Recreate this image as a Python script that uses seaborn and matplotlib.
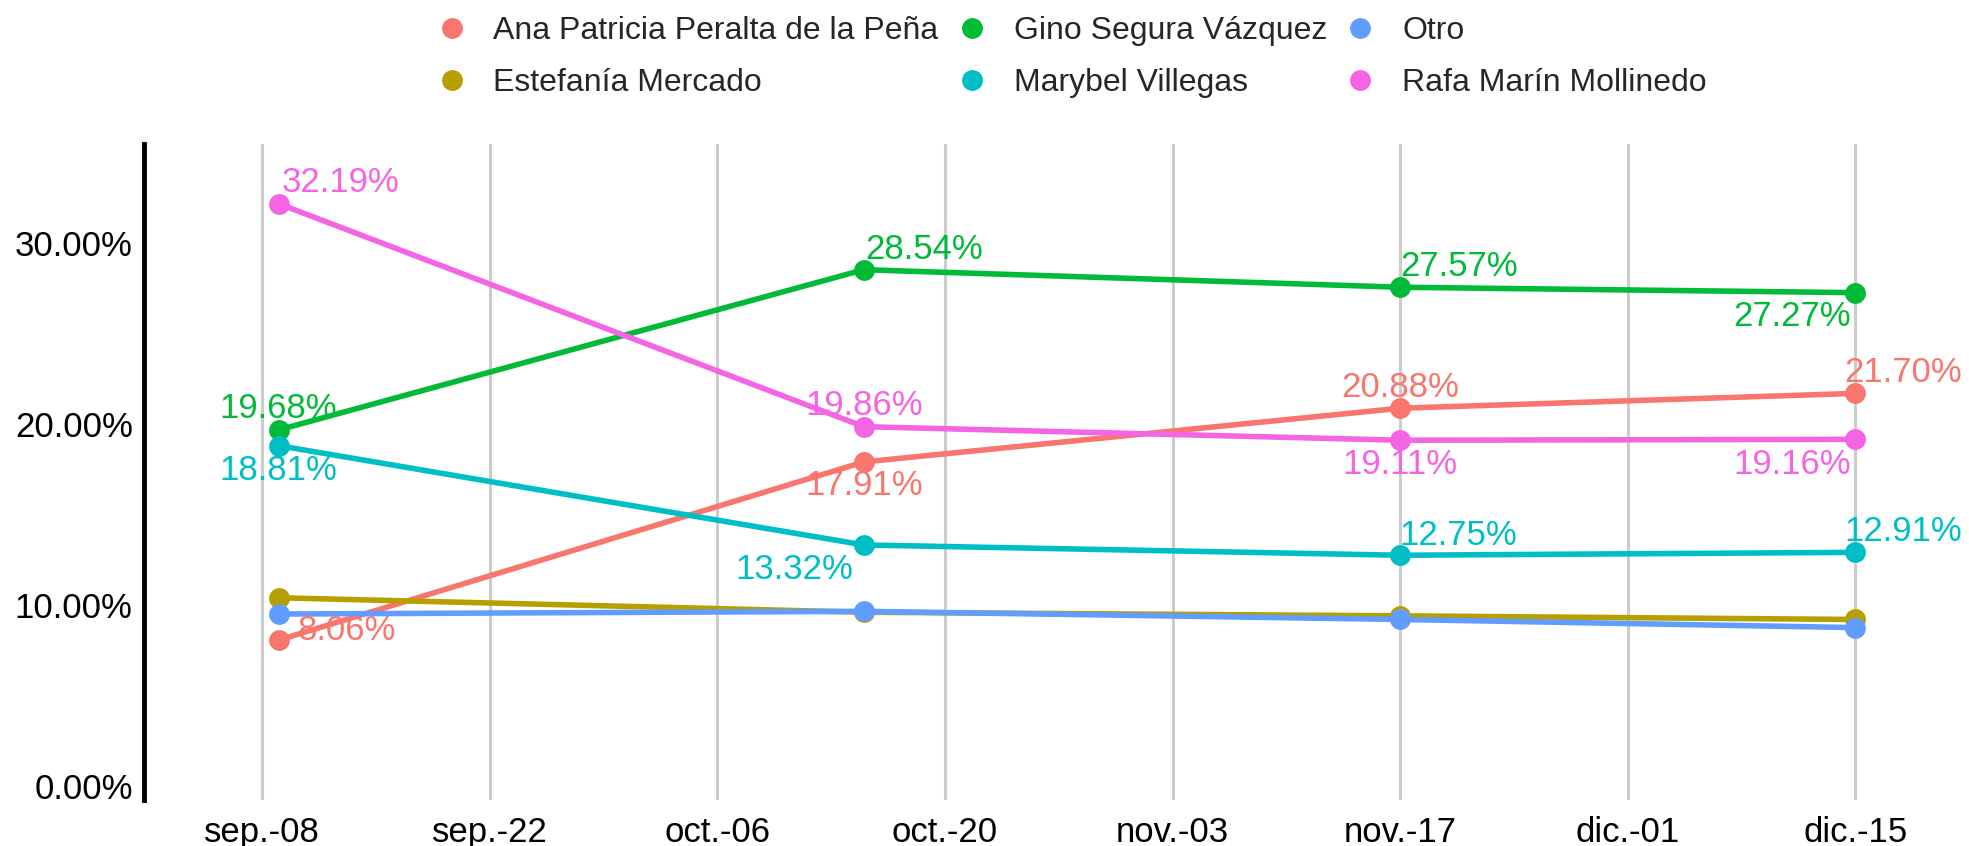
import pandas as pd
import seaborn as sns
import matplotlib.pyplot as plt
from matplotlib.lines import Line2D
from matplotlib.ticker import FuncFormatter

fechas = ["2023-09-09", "2023-10-15", "2023-11-17", "2023-12-15"]
candidatos = ["Ana Patricia Peralta de la Peña", "Estefanía Mercado", "Gino Segura Vázquez",
              "Marybel Villegas", "Otro", "Rafa Marín Mollinedo"]
ana = [8.06, 17.91, 20.88, 21.70]
estefania = [10.40, 9.60, 9.40, 9.20]
gino = [19.68, 28.54, 27.57, 27.27]
marybel = [18.81, 13.32, 12.75, 12.91]
otro = [9.50, 9.65, 9.20, 8.75]
rafa = [32.19, 19.86, 19.11, 19.16]
etiquetados = ["Ana Patricia Peralta de la Peña", "Gino Segura Vázquez",
               "Marybel Villegas", "Rafa Marín Mollinedo"]
xticks = ["2023-09-08", "2023-09-22", "2023-10-06", "2023-10-20",
          "2023-11-03", "2023-11-17", "2023-12-01", "2023-12-15"]
meses = {9: "sep.", 10: "oct.", 11: "nov.", 12: "dic."}

colores = ["#F8766D", "#B79F00", "#00BA38", "#00BFC4", "#619CFF", "#F564E3"]

series = [ana, estefania, gino, marybel, otro, rafa]
df = pd.DataFrame([(pd.Timestamp(f), c, v) for c, s in zip(candidatos, series)
                   for f, v in zip(fechas, s)], columns=["fecha", "candidato", "valor"])

# label offsets in pixels (dx, dy), per candidate and date
offs = {
    "Ana Patricia Peralta de la Peña": [(68, 10), (0, -24), (0, 21), (48, 21)],
    "Gino Segura Vázquez": [(0, 21), (60, 20), (59, 21), (-63, -24)],
    "Marybel Villegas": [(0, -25), (-69, -25), (58, 20), (48, 21)],
    "Rafa Marín Mollinedo": [(62, 21), (0, 21), (0, -24), (-63, -25)],
}

sns.set_style("white")
plt.rcParams["font.family"] = ["Liberation Sans", "DejaVu Sans"]

fig = plt.figure(figsize=(19.69, 8.46), dpi=100)
ax = fig.add_axes([0.073, 0.054, 0.927, 0.776])

sns.lineplot(data=df, x="fecha", y="valor", hue="candidato", hue_order=candidatos,
             palette=colores, marker="o", markersize=15, markeredgewidth=0,
             linewidth=4, ax=ax, legend=False)

for c, col in zip(candidatos, colores):
    if c not in etiquetados:
        continue
    sub = df[df.candidato == c]
    for (f, v), (dx, dy) in zip(zip(sub.fecha, sub.valor), offs[c]):
        ax.annotate(f"{v:.2f}%", (f, v), xytext=(dx, dy), textcoords="offset pixels",
                    ha="center", va="center", color=col, fontsize=25)

t0 = pd.Timestamp(xticks[0])
t1 = pd.Timestamp(xticks[-1])
ax.set_xlim(t0 - pd.Timedelta(days=7.3), t1 + pd.Timedelta(days=7.0))
ax.set_ylim(-0.8, 35.5)
ax.set_yticks([0, 10, 20, 30])
ax.yaxis.set_major_formatter(FuncFormatter(lambda v, p: f"{v:.2f}%"))
xt = [pd.Timestamp(d) for d in xticks]
ax.set_xticks(xt)
ax.set_xticklabels([f"{meses[d.month]}-{d.day:02d}" for d in xt])
ax.grid(axis="x", color="#cccccc", linewidth=2.2)
ax.grid(axis="y", visible=False)
for s in ["top", "right", "bottom"]:
    ax.spines[s].set_visible(False)
ax.spines["left"].set_linewidth(3.5)
ax.spines["left"].set_color("black")
ax.tick_params(axis="both", length=0, labelsize=25, labelcolor="black")
ax.tick_params(axis="x", pad=11)
ax.tick_params(axis="y", pad=8)
ax.set_xlabel("")
ax.set_ylabel("")

handles = [Line2D([], [], marker="o", linestyle="", color=col, markersize=14)
           for col in colores]
fig.legend(handles, candidatos, loc="upper center", bbox_to_anchor=(0.540, 1.015),
           ncol=3, frameon=False, fontsize=23, handletextpad=0.3,
           columnspacing=0.05, labelspacing=0.7)

fig.savefig("out.png", dpi=100)
